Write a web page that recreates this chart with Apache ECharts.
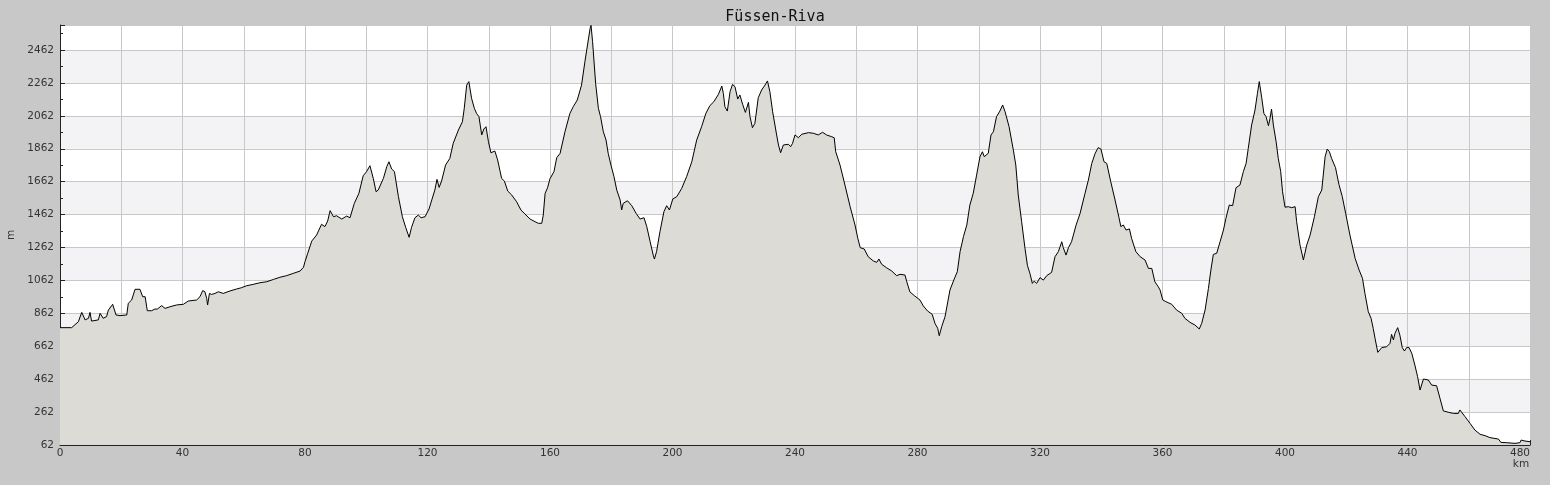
<!DOCTYPE html>
<html>
<head>
<meta charset="utf-8">
<script src="https://cdn.jsdelivr.net/npm/echarts@6/dist/echarts.min.js"></script>
<style>
html,body{margin:0;padding:0;background:#c8c8c8;}
#chart{width:1550px;height:485px;}
</style>
</head>
<body>
<div id="chart"></div>
<script>
const chartTitle = 'Füssen-Riva';
const distanceKm = [
0,3.8,6,7.1,7.6,8.2,9.3,9.8,10.3,12.5,13.1,13.6,14.1,15.2,15.8,16.3,17.2,17.6,18.3,19.6,21.8,22.3,23.4,24.5,26.1,27,27.8,28.5,29.9,31,31.8,33.2,34.3,35.9,38.1,40.3,41.9,44.6,45.7,46.6,47.3,47.9,48.2,48.8,49.5,50.6,51.7,53.3,55.5,57.7,59.3,61,63.1,65.3,67.5,69.7,71.8,74,76.2,78.4,79.5,
80,80.9,82.2,83.8,85.4,86.5,87.4,88.2,89.3,90.3,92,93.6,94.7,96.1,97.6,99,100.1,101.2,102.3,103.2,103.9,105.6,106.7,107.4,108.3,109.2,110.5,111.8,112.9,114,114.8,115.9,117,117.9,119.2,120.5,121.4,122.4,123.1,123.8,124.6,125.9,127.3,128.4,130.1,131.4,132,132.8,133.5,134.4,135.3,136,136.8,137.7,138.4,139.1,139.9,140.7,142,142.9,144.2,145.1,146.2,147.5,149.1,150.5,151.8,153.5,155.1,156.2,157.3,157.8,158.4,159.2,
160,161.3,162.2,163.3,164.9,166.5,167.6,168.9,170.3,171.4,172.5,173.1,173.4,173.9,174.9,175.8,176.5,177.4,178.3,179,179.9,180.9,181.8,182.9,183.4,183.9,185.3,186.7,188.1,189.4,190.7,191.6,192.7,193.7,194.1,194.8,195.9,197.2,198.1,199,200.1,201.4,203,204.6,206.3,207.9,209.5,210.9,212.2,213.5,215,216.1,216.6,217.1,217.9,218.8,219.6,220.4,221.3,222,222.9,223.8,224.8,225.3,226.1,226.9,228,229.1,230.2,231,231.8,232.7,234,234.6,235.3,236.2,237.8,238.6,239.2,
240,241.1,242.2,244.4,246,247.6,249,250.3,252,252.8,253.3,254.7,256.3,258,259.6,260.5,261.3,262.6,263.9,265.6,266.7,267.4,268.3,269.9,271.6,273.2,274.3,275.9,276.5,277.5,279,280.8,281.9,283.3,284.8,285.7,286.6,287.1,287.9,289,290.6,292,293,293.9,295,296.1,297.1,298.2,299.3,300.4,301.2,301.8,303.1,304,304.8,305.8,306.9,307.8,308.6,309.9,311.3,312.1,312.9,314,315.1,315.9,316.7,317.5,318.1,318.9,
320,321.1,322.2,323.8,324.9,326,327.1,327.6,328.5,329.3,330.3,331.8,333.1,334.7,335.8,336.9,338,339,339.9,340.9,341.8,343.1,344.5,345.8,346.4,347.2,348.1,349.2,349.9,351.3,352.7,354.3,355.4,356.5,357.5,358.6,359.2,360.1,361.1,363,364.6,366.3,367.3,369,370.6,372,372.8,373.9,375,375.8,376.6,377.7,378.8,379.9,380.7,381.8,382.9,384,385.3,386.4,387.3,388,389.1,390.2,391,391.6,392.4,393.1,393.8,394.6,395.1,395.6,396.2,397.1,397.8,398.6,399.2,
400,401.1,402.2,403.3,403.8,404.9,406,407.1,408.2,409.6,410.9,412,413.1,413.8,414.5,415.2,416.5,417.6,418.7,419.8,421.2,422.9,424.2,425.3,426.1,427.2,428.1,428.8,429.4,430.3,431.6,433.2,434.3,434.8,435.4,435.9,436.8,437.5,438.3,439,439.7,440.5,441.4,442.4,443.3,444.1,445.2,446.8,447.9,449.5,450.6,451.7,453.3,455,456.6,457.1,457.7,458.8,460.4,462,463.7,465.3,466.9,469.7,470.5,472.4,475.1,476.7,477.1,478.4,480
];
const elevationM = [
775,775,811,868,868,822,832,868,815,822,862,862,832,842,882,876,917,917,852,848,852,923,943,1008,1008,963,963,878,878,888,888,909,892,902,913,917,937,943,963,1000,994,953,913,983,977,983,993,983,998,1010,1018,1030,1038,1048,1054,1068,1081,1091,1105,1119,1142,
1176,1227,1301,1338,1403,1389,1423,1486,1449,1455,1435,1453,1443,1530,1591,1698,1723,1759,1682,1601,1611,1682,1753,1783,1739,1723,1571,1449,1383,1324,1385,1443,1459,1443,1449,1496,1551,1611,1676,1627,1666,1763,1804,1895,1976,2026,2108,2249,2270,2168,2108,2077,2057,1946,1982,1996,1905,1838,1848,1794,1682,1666,1605,1581,1540,1490,1466,1435,1419,1409,1409,1459,1591,1625,
1680,1723,1808,1834,1966,2077,2118,2158,2249,2391,2523,2594,2612,2513,2259,2108,2057,1966,1915,1834,1763,1692,1611,1551,1490,1530,1546,1516,1470,1435,1443,1389,1297,1216,1192,1237,1358,1480,1516,1490,1557,1571,1621,1692,1783,1915,1996,2077,2124,2148,2193,2243,2199,2118,2091,2209,2253,2239,2164,2189,2132,2083,2144,2057,1990,2016,2172,2219,2249,2274,2209,2087,1946,1885,1838,1885,1889,1875,1895,
1946,1929,1950,1960,1956,1946,1962,1946,1935,1929,1844,1763,1642,1510,1399,1318,1261,1253,1206,1180,1172,1192,1160,1139,1119,1091,1099,1095,1054,993,969,943,907,876,856,801,771,726,781,842,1004,1071,1115,1237,1328,1399,1520,1591,1702,1814,1844,1814,1834,1946,1966,2057,2091,2128,2087,1996,1854,1763,1581,1419,1257,1152,1105,1044,1058,1044,
1079,1064,1091,1111,1206,1237,1297,1261,1216,1261,1297,1399,1470,1591,1672,1773,1834,1869,1860,1783,1773,1662,1551,1443,1389,1399,1368,1375,1318,1237,1206,1186,1135,1135,1054,1024,1004,943,933,917,882,862,832,807,791,767,801,882,1014,1125,1220,1227,1297,1368,1439,1520,1516,1625,1642,1723,1773,1864,2006,2097,2199,2270,2172,2077,2057,2002,2046,2103,2006,1905,1804,1723,1601,
1507,1510,1504,1510,1419,1277,1186,1277,1338,1449,1571,1611,1814,1860,1844,1804,1747,1646,1571,1470,1338,1196,1125,1075,983,872,832,771,710,625,654,659,680,734,700,740,775,730,654,633,654,654,619,548,477,396,463,457,426,422,346,269,261,254,254,275,275,234,194,153,127,119,107,98,78,76,72,76,92,86,82
];
const yTickStart = 62, yTickStep = 200, yTop = 2614;
const xTickStep = 20, xLabelStep = 40, xMax = 480;

const chart = echarts.init(document.getElementById('chart'), null, {renderer:'canvas'});
const points = distanceKm.map((d,i)=>[d, elevationM[i]]);
chart.setOption({
  animation:false,
  backgroundColor:'#c8c8c8',
  title:{text:chartTitle,left:'center',top:5,textStyle:{fontFamily:'DejaVu Sans Mono',fontSize:15,fontWeight:'normal',color:'#111'}},
  grid:{left:60,right:20,top:25,bottom:40,show:true,backgroundColor:'#ffffff',borderWidth:0,containLabel:false,outerBoundsMode:'none'},
  xAxis:{type:'value',min:0,max:xMax,interval:xTickStep,
    name:'km',nameLocation:'end',nameGap:-9,
    nameTextStyle:{fontFamily:'DejaVu Sans',fontSize:10.5,color:'#333',align:'center',verticalAlign:'top',padding:[14,0,0,0]},
    axisLine:{show:true,onZero:false,lineStyle:{color:'#222',width:1}},
    axisTick:{show:true,inside:true,length:5,lineStyle:{color:'#222'}},
    minorTick:{show:true,splitNumber:2,length:3,lineStyle:{color:'#222'}},
    axisLabel:{fontFamily:'DejaVu Sans',fontSize:10.5,color:'#333',margin:3,alignMaxLabel:'right',
      formatter:v=> (v % xLabelStep === 0 ? String(v) : '')},
    splitLine:{show:true,lineStyle:{color:'#c8c8c8',width:1}}
  },
  yAxis:{type:'value',min:yTickStart,max:yTop,interval:yTickStep,
    name:'m',nameLocation:'middle',nameGap:43,nameRotate:90,
    nameTextStyle:{fontFamily:'DejaVu Sans',fontSize:10.5,color:'#333'},
    axisLine:{show:true,lineStyle:{color:'#222',width:1}},
    axisTick:{show:true,inside:true,length:5,lineStyle:{color:'#222'}},
    minorTick:{show:true,splitNumber:2,length:3,lineStyle:{color:'#222'}},
    axisLabel:{fontFamily:'DejaVu Sans',fontSize:10.5,color:'#333',margin:6,showMaxLabel:false,formatter:v=>String(v)},
    splitLine:{show:true,lineStyle:{color:'#c8c8c8',width:1}},
    splitArea:{show:true,areaStyle:{color:['#ffffff','#f3f2f4']}}
  },
  series:[{
    type:'line',data:points,symbol:'none',smooth:false,
    lineStyle:{color:'#000',width:1},
    areaStyle:{color:'#dcdbd6',opacity:1},
    z:3
  }]
});
</script>
</body>
</html>
